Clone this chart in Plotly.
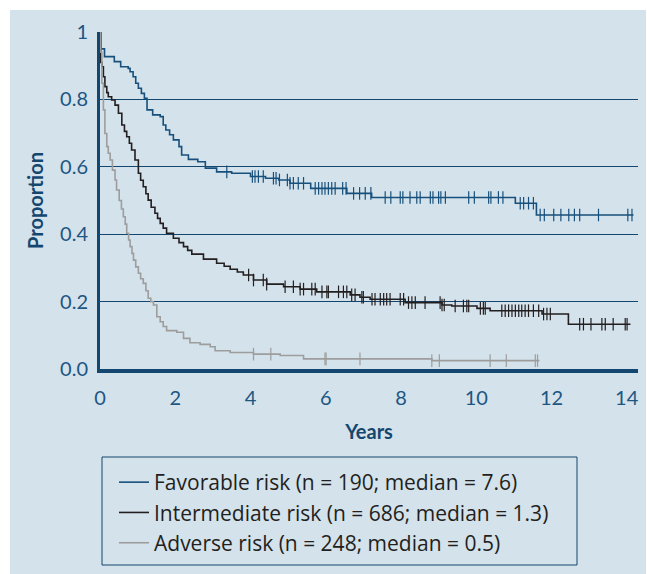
import numpy as np
import plotly.graph_objects as go

# ---------------- data ----------------
fav_t = [0, 0.03, 0.12, 0.38, 0.55, 0.75, 0.80, 0.88, 0.95, 1.02, 1.10, 1.18, 1.25, 1.40, 1.60,
         1.68, 1.75, 1.85, 1.95, 2.10, 2.17, 2.35, 2.60, 2.80, 3.10, 3.50, 4.00, 4.40, 4.75,
         5.05, 5.60, 6.56, 7.22, 11.04, 11.60, 14.18]
fav_p = [1.0, 0.950, 0.927, 0.912, 0.897, 0.892, 0.882, 0.867, 0.848, 0.833, 0.818, 0.803,
         0.769, 0.754, 0.749, 0.724, 0.709, 0.695, 0.680, 0.660, 0.635, 0.622, 0.615, 0.596,
         0.585, 0.581, 0.571, 0.566, 0.561, 0.551, 0.536, 0.521, 0.509, 0.492, 0.457, 0.457]
fav_cens = [3.37, 4.05, 4.12, 4.21, 4.34, 4.61, 4.68, 4.77, 4.98, 5.05, 5.14, 5.27, 5.41, 5.72,
            5.81, 5.90, 5.98, 6.07, 6.16, 6.25, 6.45, 6.54, 6.74, 6.90, 7.05, 7.20, 7.58, 7.73,
            7.98, 8.05, 8.24, 8.42, 8.51, 8.78, 8.85, 9.00, 9.06, 9.18, 9.80, 9.95, 10.33,
            10.39, 10.59, 10.71, 11.17, 11.26, 11.39, 11.52, 11.70, 11.81, 12.06, 12.25, 12.46,
            12.61, 12.75, 13.25, 14.03, 14.14]

int_t = [0, 0.02, 0.05, 0.09, 0.13, 0.18, 0.22, 0.31, 0.40, 0.49, 0.58, 0.65, 0.71, 0.78,
         0.84, 0.93, 1.02, 1.08, 1.15, 1.22, 1.28, 1.36, 1.46, 1.53, 1.60, 1.68, 1.77, 1.95,
         2.10, 2.22, 2.33, 2.44, 2.75, 3.10, 3.30, 3.46, 3.65, 3.81, 4.08, 4.43, 4.88, 5.32,
         5.76, 6.65, 6.91, 7.18, 8.11, 9.09, 9.35, 10.02, 10.37, 11.75, 12.45, 14.10]
int_p = [1.0, 0.910, 0.897, 0.867, 0.838, 0.820, 0.808, 0.798, 0.783, 0.759, 0.724, 0.705,
         0.689, 0.670, 0.650, 0.620, 0.581, 0.560, 0.541, 0.520, 0.501, 0.480, 0.462, 0.447,
         0.432, 0.418, 0.403, 0.388, 0.375, 0.363, 0.352, 0.341, 0.326, 0.314, 0.305, 0.296,
         0.288, 0.279, 0.264, 0.252, 0.244, 0.237, 0.229, 0.220, 0.213, 0.207, 0.197, 0.190,
         0.187, 0.180, 0.173, 0.163, 0.133, 0.133]
int_cens = [3.95, 4.08, 4.34, 4.43, 4.92, 5.14, 5.32, 5.41, 5.63, 5.72, 5.90, 6.03, 6.07, 6.34,
            6.47, 6.56, 6.69, 6.78, 6.96, 7.00, 7.23, 7.31, 7.45, 7.54, 7.62, 7.71, 7.98, 8.07,
            8.20, 8.29, 8.38, 8.64, 9.04, 9.09, 9.15, 9.44, 9.66, 9.75, 9.80, 10.11, 10.19,
            10.24, 10.68, 10.77, 10.86, 10.95, 11.04, 11.13, 11.21, 11.30, 11.39, 11.52, 11.66,
            11.79, 11.88, 11.97, 12.75, 12.85, 13.05, 13.34, 13.43, 13.64, 13.96, 14.01]

adv_t = [0, 0.02, 0.05, 0.09, 0.13, 0.18, 0.22, 0.27, 0.33, 0.40, 0.44, 0.51, 0.57, 0.62,
         0.67, 0.71, 0.76, 0.80, 0.85, 0.89, 0.95, 1.02, 1.08, 1.15, 1.22, 1.28, 1.35, 1.42,
         1.51, 1.60, 1.68, 1.77, 2.04, 2.22, 2.39, 2.66, 2.93, 3.06, 3.46, 4.08, 4.79, 5.41,
         8.82, 11.68]
adv_p = [1.0, 0.940, 0.848, 0.769, 0.699, 0.660, 0.640, 0.620, 0.590, 0.561, 0.531, 0.500,
         0.475, 0.452, 0.430, 0.403, 0.383, 0.363, 0.343, 0.323, 0.303, 0.284, 0.268, 0.254,
         0.232, 0.210, 0.200, 0.190, 0.155, 0.140, 0.126, 0.114, 0.109, 0.091, 0.078, 0.073,
         0.066, 0.054, 0.049, 0.044, 0.040, 0.030, 0.025, 0.025]
adv_cens = [4.08, 4.54, 5.98, 6.01, 6.91, 8.82, 9.02, 10.37, 10.80, 11.57, 11.63]

names = ["Favorable risk (n = 190; median = 7.6)",
         "Intermediate risk (n = 686; median = 1.3)",
         "Adverse risk (n = 248; median = 0.5)"]
colors = ["#17507c", "#231f20", "#9d9d9d"]

x_ticks = [0, 2, 4, 6, 8, 10, 12, 14]
y_ticks = [0, 0.2, 0.4, 0.6, 0.8, 1.0]
y_tick_text = ["0.0", "0.2", "0.4", "0.6", "0.8", "1"]

# ---------------- figure ----------------
W, H = 647, 574
L, R, T, B = 100, 9, 32, 205
pw, ph = W - L - R, H - T - B

def px_x(v):
    return (v - L) / pw

def px_y(v):
    return (H - B - v) / ph

fig = go.Figure()

def step_val(ts, ps, cs):
    ts = np.asarray(ts); ps = np.asarray(ps)
    idx = np.searchsorted(ts, np.asarray(cs), side="right") - 1
    return ps[idx]

groups = [(fav_t, fav_p, fav_cens), (int_t, int_p, int_cens), (adv_t, adv_p, adv_cens)]
for i, (ts, ps, cs) in enumerate(groups):
    fig.add_trace(go.Scatter(
        x=ts, y=ps, mode="lines", line=dict(shape="hv", color=colors[i], width=1.6),
        name=names[i], showlegend=True))
for i, (ts, ps, cs) in enumerate(groups):
    fig.add_trace(go.Scatter(
        x=cs, y=step_val(ts, ps, cs), mode="markers",
        marker=dict(symbol="line-ns", size=9, line=dict(color=colors[i], width=1.2)),
        showlegend=False, hoverinfo="skip"))

axis_col = "#14476f"
tick_col = "#1d5682"

fig.update_layout(
    width=W, height=H,
    margin=dict(l=L, r=R, t=T, b=B, autoexpand=False),
    paper_bgcolor="white",
    plot_bgcolor="rgba(0,0,0,0)",
    font=dict(family="Lato", size=20, color=tick_col),
    xaxis=dict(range=[0, 14.3], tickvals=x_ticks, showgrid=False, zeroline=False,
               showline=True, linecolor=axis_col, linewidth=3.5, ticks="",
               ticklabelstandoff=8,
               tickfont=dict(size=20, color=tick_col),
               title=dict(text="<b>Years</b>", font=dict(size=20, color=axis_col), standoff=18)),
    yaxis=dict(range=[0, 1.0], tickvals=y_ticks, ticktext=y_tick_text, showgrid=True,
               gridcolor=axis_col, gridwidth=1.2, zeroline=False,
               showline=True, linecolor=axis_col, linewidth=3, ticks="", ticklabelstandoff=5,
               tickfont=dict(size=20, color=tick_col),
               title=dict(text="<b>Proportion</b>", font=dict(size=20, color=axis_col), standoff=12)),
    legend=dict(x=px_x(114), y=px_y(462), xanchor="left", yanchor="top",
                bgcolor="rgba(0,0,0,0)", borderwidth=0,
                font=dict(family="Open Sans", size=21, color="#231f20"), itemwidth=30),
    showlegend=True,
)

# background panel and legend box
fig.add_shape(type="rect", xref="paper", yref="paper",
              x0=px_x(10), x1=px_x(646), y0=px_y(574), y1=px_y(10),
              fillcolor="#d4e2eb", line=dict(width=0), layer="below")
fig.add_shape(type="rect", xref="paper", yref="paper",
              x0=px_x(102), x1=px_x(577), y0=px_y(565), y1=px_y(457),
              fillcolor="rgba(0,0,0,0)", line=dict(width=1, color=axis_col), layer="above")

fig.write_html("out.html", config={"displayModeBar": False},
               post_script="document.body.style.margin='0px';")
